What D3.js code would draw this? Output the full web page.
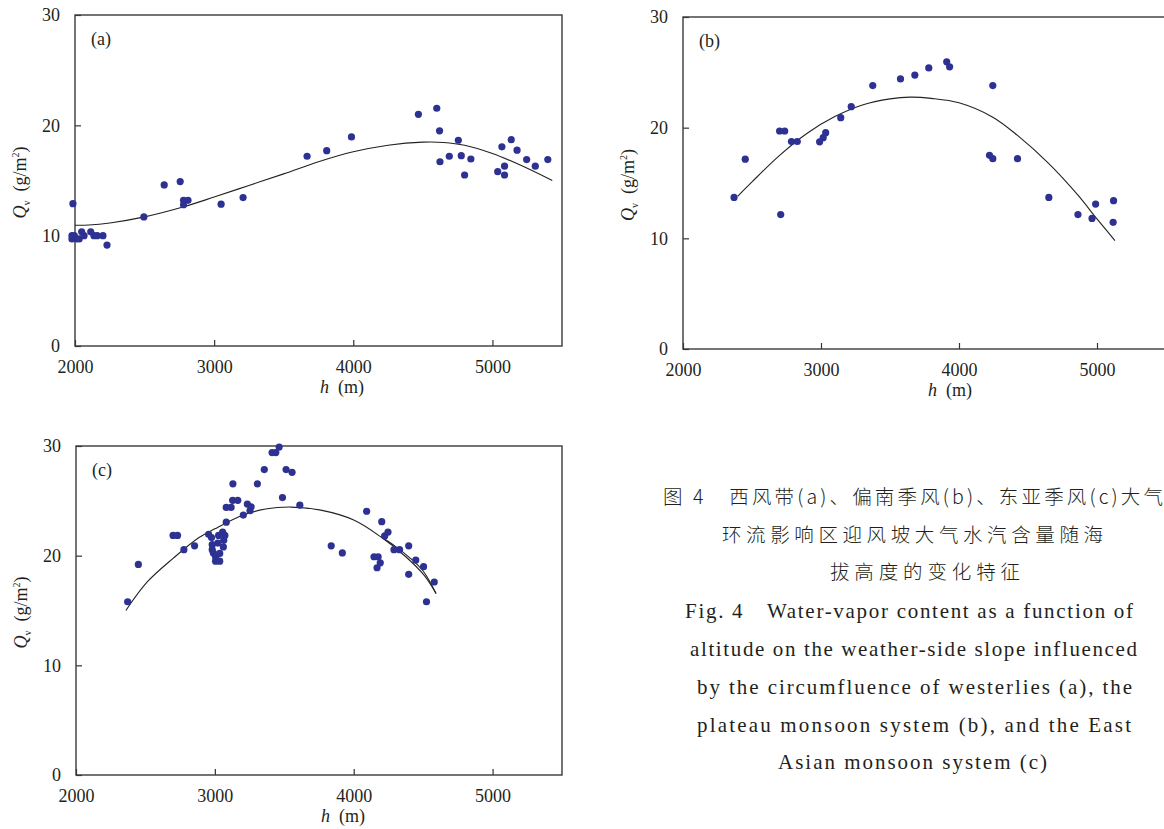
<!DOCTYPE html>
<html>
<head>
<meta charset="utf-8">
<script src="https://cdn.jsdelivr.net/npm/d3@7"></script>
<style>
  body { margin: 0; background: #fff; }
  svg { display: block; }
  .serif { font-family: "Liberation Serif", "Times New Roman", serif; }
  .cjk { font-family: "Noto Sans CJK SC", "Noto Sans CJK TC", sans-serif; }
</style>
</head>
<body>
<svg id="fig" width="1164" height="829"></svg>
<script>
// ---- axis ticks ----
const hTicks = [2000, 3000, 4000, 5000];
const qTicks = [0, 10, 20, 30];

// ---- (a) westerlies: station altitude h (m) and water-vapour content Qv ----
const hA = [1985, 1978, 1978, 1995, 2010, 2030, 2048, 2065, 2113, 2136, 2160, 2201, 2230,
            2495, 2641, 2756, 2780, 2812, 2780, 3050, 3208, 3668, 3809, 3987,
            4468, 4600, 4620, 4623, 4690, 4755, 4776, 4800, 4845,
            5038, 5068, 5087, 5087, 5135, 5177, 5246, 5308, 5398];
const qA = [12.9, 10.0, 9.7, 10.0, 9.7, 9.7, 10.35, 10.0, 10.35, 10.0, 10.0, 10.0, 9.15,
            11.7, 14.6, 14.9, 13.2, 13.2, 12.8, 12.85, 13.45, 17.2, 17.7, 18.95,
            21.0, 21.55, 19.5, 16.7, 17.2, 18.65, 17.25, 15.5, 16.95,
            15.8, 18.05, 16.3, 15.5, 18.7, 17.75, 16.9, 16.3, 16.9];
// fitted curve (a)
const fitHA = [2000, 2100, 2250, 2500, 2750, 3000, 3250, 3500, 3750, 4000, 4250, 4500, 4650, 4800, 5000, 5200, 5430];
const fitQA = [10.95, 10.97, 11.15, 11.7, 12.5, 13.5, 14.55, 15.6, 16.7, 17.6, 18.2, 18.48, 18.45, 18.2, 17.45, 16.4, 15.0];

// ---- (b) plateau monsoon ----
const hB = [2370, 2451, 2700, 2737, 2708, 2786, 2828, 2990, 3016, 3034, 3143, 3219, 3375,
            3576, 3680, 3781, 3911, 3932, 4245, 4221, 4245, 4424, 4651, 4862, 4964, 4990, 5120, 5117];
const qB = [13.7, 17.15, 19.7, 19.7, 12.15, 18.75, 18.75, 18.72, 19.1, 19.55, 20.9, 21.9, 23.8,
            24.4, 24.75, 25.4, 25.95, 25.5, 23.8, 17.5, 17.2, 17.2, 13.7, 12.15, 11.8, 13.1, 13.4, 11.45];
// fitted curve (b)
const fitHB = [2396, 2500, 2700, 2900, 3100, 3300, 3500, 3646, 3800, 4000, 4245, 4424, 4651, 4862, 5000, 5130];
const fitQB = [13.8, 15.1, 17.5, 19.5, 21.0, 22.05, 22.6, 22.76, 22.65, 22.25, 20.95, 19.3, 16.75, 13.9, 11.75, 9.8];

// ---- (c) East Asian monsoon ----
const hC = [2372, 2449, 2699, 2731, 2777, 2854, 2955, 2976, 2981, 2981, 2989, 3005, 3005,
            3035, 3035, 3021, 3027, 3056, 3061, 3064, 3072, 3082, 3082, 3117, 3130, 3128,
            3165, 3205, 3234, 3253, 3261, 3306, 3356, 3412, 3439, 3463, 3487, 3513, 3556,
            3612, 3838, 3918, 4093, 4146, 4176, 4168, 4191, 4202, 4223, 4247, 4290, 4330,
            4396, 4396, 4447, 4503, 4524, 4580];
const qC = [15.8, 19.2, 21.85, 21.85, 20.55, 20.9, 21.95, 21.65, 21.0, 20.55, 20.25, 19.9, 19.5,
            19.5, 20.2, 21.15, 21.85, 22.15, 20.8, 21.4, 21.85, 23.05, 24.4, 24.4, 26.55, 25.05,
            25.05, 23.7, 24.7, 24.1, 24.45, 26.55, 27.85, 29.4, 29.4, 29.9, 25.3, 27.85, 27.6,
            24.6, 20.9, 20.25, 24.05, 19.9, 19.9, 18.9, 19.35, 23.1, 21.8, 22.15, 20.55, 20.55,
            20.9, 18.3, 19.6, 19.0, 15.8, 17.6];
// fitted curves (c): main trace and the short second trace near the upper end
const fitHC = [2359, 2513, 2699, 2886, 3000, 3205, 3364, 3551, 3763, 4000, 4202, 4375, 4508, 4593];
const fitQC = [15.0, 17.6, 19.75, 21.65, 22.45, 23.7, 24.25, 24.43, 24.15, 23.25, 21.65, 19.9, 18.2, 16.55];
const fitHC2 = [4200, 4300, 4400, 4500, 4593];
const fitQC2 = [21.7, 20.85, 19.85, 18.6, 16.55];

// ---- caption ----
const captionZh = [
  "图 4　西风带(a)、偏南季风(b)、东亚季风(c)大气",
  "环流影响区迎风坡大气水汽含量随海",
  "拔高度的变化特征"
];
const captionEn = [
  "Fig. 4\u2003Water-vapor content as a function of",
  "altitude on the weather-side slope influenced",
  "by the circumfluence of westerlies (a), the",
  "plateau monsoon system (b), and the East",
  "Asian monsoon system (c)"
];

const INK = "#231f20";
const DOT = "#2d3192";

const svg = d3.select("#fig");
svg.append("rect").attr("width", 1164).attr("height", 829).attr("fill", "#fff");

const zip = (a, b) => a.map((v, i) => [v, b[i]]);

function panel(box, label, pts, fits) {
  const x = d3.scaleLinear().domain([2000, 5500]).range([box.x0, box.x1]);
  const y = d3.scaleLinear().domain([0, 30]).range([box.yb, box.yt]);
  const g = svg.append("g");

  // axes with ticks pointing into the plot
  const ax = g.append("g").attr("transform", `translate(0,${box.yb})`)
    .call(d3.axisBottom(x).tickValues(hTicks).tickFormat(d3.format("d"))
      .tickSizeInner(-6).tickSizeOuter(0).tickPadding(14));
  const ay = g.append("g").attr("transform", `translate(${box.x0},0)`)
    .call(d3.axisLeft(y).tickValues(qTicks).tickFormat(d3.format("d"))
      .tickSizeInner(-6).tickSizeOuter(0).tickPadding(15));
  [ax, ay].forEach(a => {
    a.attr("font-family", null).attr("font-size", null);
    a.select(".domain").remove();
    a.selectAll(".tick line").attr("stroke", "#333").attr("stroke-width", 1.2);
    a.selectAll(".tick text").attr("class", "serif").attr("fill", INK).style("font-size", "18px");
  });

  // frame
  g.append("rect")
    .attr("x", box.x0).attr("y", box.yt)
    .attr("width", box.x1 - box.x0).attr("height", box.yb - box.yt)
    .attr("fill", "none").attr("stroke", "#3a3a3a").attr("stroke-width", 1.4);

  // fitted curves
  const line = d3.line().x(d => x(d[0])).y(d => y(d[1])).curve(d3.curveCatmullRom.alpha(0.5));
  fits.forEach(f => {
    g.append("path").attr("d", line(f)).attr("fill", "none")
      .attr("stroke", "#222").attr("stroke-width", 1.1);
  });

  // observations
  g.append("g").selectAll("circle").data(pts).join("circle")
    .attr("cx", d => x(d[0])).attr("cy", d => y(d[1])).attr("r", 3.6).attr("fill", DOT);

  // panel tag
  g.append("text").attr("class", "serif").attr("x", box.x0 + 16).attr("y", box.yt + 30)
    .attr("fill", INK).style("font-size", "18px").text(label);

  // x title
  const xt = g.append("text").attr("class", "serif").attr("x", box.x0 + 267).attr("y", box.yb + 47)
    .attr("text-anchor", "middle").attr("fill", INK).style("font-size", "18px");
  xt.append("tspan").style("font-style", "italic").text("h");
  xt.append("tspan").text("\u00a0\u00a0(m)");

  // y title
  const cy = (box.yt + box.yb) / 2 + 2;
  const yt = g.append("text").attr("class", "serif")
    .attr("transform", `translate(${box.x0 - 49},${cy}) rotate(-90)`)
    .attr("text-anchor", "middle").attr("fill", INK).style("font-size", "18px");
  yt.append("tspan").style("font-style", "italic").text("Q");
  yt.append("tspan").attr("dy", 4).style("font-size", "10px").text("v");
  yt.append("tspan").attr("dy", -4).text("\u00a0\u00a0(g/m");
  yt.append("tspan").attr("dy", -7).style("font-size", "10px").text("2");
  yt.append("tspan").attr("dy", 7).text(")");
}

panel({x0: 75, x1: 562, yt: 15, yb: 346}, "(a)", zip(hA, qA), [zip(fitHA, fitQA)]);
panel({x0: 683, x1: 1166, yt: 17, yb: 349}, "(b)", zip(hB, qB), [zip(fitHB, fitQB)]);
panel({x0: 76, x1: 562, yt: 446, yb: 775}, "(c)", zip(hC, qC), [zip(fitHC, fitQC), zip(fitHC2, fitQC2)]);

// caption
const zhPos = [[663, 504, 500], [722, 542, 381], [830, 579, 190]];
captionZh.forEach((s, i) => {
  svg.append("text").attr("class", "cjk").attr("x", zhPos[i][0]).attr("y", zhPos[i][1])
    .attr("textLength", zhPos[i][2]).attr("lengthAdjust", "spacing")
    .attr("fill", INK).style("font-size", "19.5px").style("font-weight", 300).text(s);
});
const enPos = [[685, 618, 448], [690, 656, 447], [697, 694, 435], [697, 732, 434], [778, 769, 269]];
captionEn.forEach((s, i) => {
  svg.append("text").attr("class", "serif").attr("x", enPos[i][0]).attr("y", enPos[i][1])
    .attr("textLength", enPos[i][2]).attr("lengthAdjust", "spacing")
    .attr("fill", INK).style("font-size", "21px").text(s);
});
</script>
</body>
</html>
